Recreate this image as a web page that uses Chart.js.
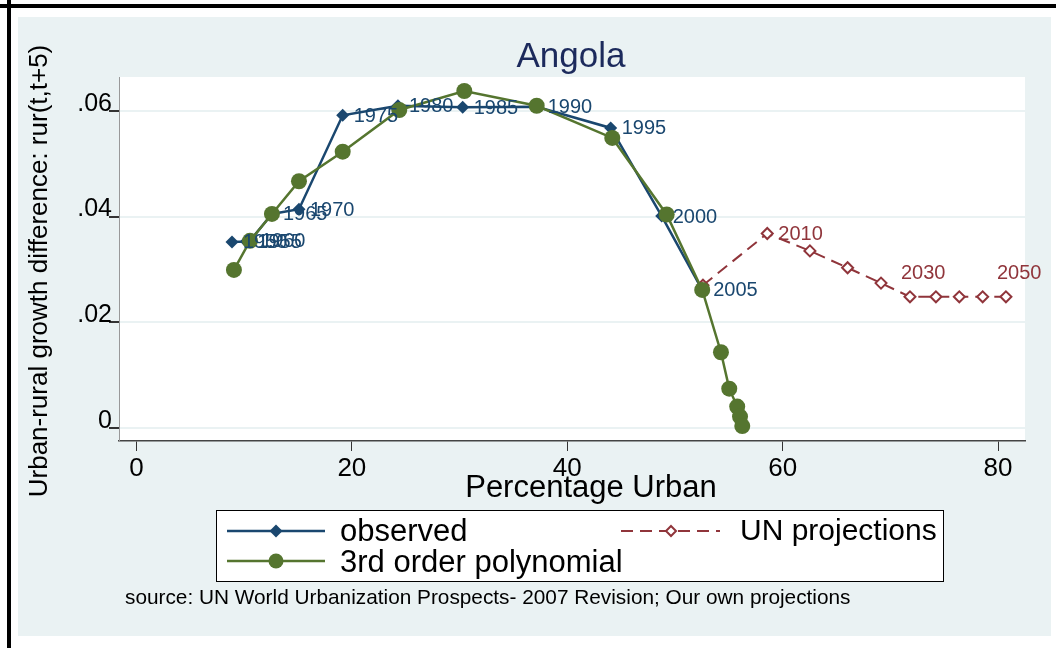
<!DOCTYPE html>
<html>
<head>
<meta charset="utf-8">
<script src="https://cdn.jsdelivr.net/npm/chart.js@4.4.1/dist/chart.umd.min.js"></script>
<style>
  html, body { margin: 0; padding: 0; background: #fff; }
</style>
</head>
<body>
<canvas id="chart" width="1056" height="648"></canvas>
<script>
// observed values
const obsYears = ['1950', '1955', '1960', '1965', '1970', '1975', '1980', '1985', '1990', '1995', '2000', '2005'];
const obsUrban = [8.87, 10.2, 10.54, 12.58, 15.09, 19.15, 24.28, 30.29, 37.16, 44.03, 48.77, 52.53];
const obsDiff = [0.0352, 0.0353, 0.0354, 0.0405, 0.0414, 0.0592, 0.0610, 0.0607, 0.0608, 0.0568, 0.0401, 0.0261];

// UN projections
const projYears = ['2005', '2010', '2015', '2020', '2025', '2030', '2035', '2040', '2045', '2050'];
const projShown = ['', '2010', '', '', '', '2030', '', '', '', '2050'];
const projUrban = [52.6, 58.57, 62.53, 66.03, 69.13, 71.82, 74.23, 76.40, 78.57, 80.73];
const projDiff = [0.0270, 0.0368, 0.0335, 0.0303, 0.0274, 0.0248, 0.0248, 0.0248, 0.0248, 0.0248];

// 3rd order polynomial fit
const polyUrban = [9.05, 10.54, 12.58, 15.09, 19.15, 24.40, 30.44, 37.16, 44.18, 49.23, 52.53, 54.27, 55.04, 55.78, 56.04, 56.25];
const polyDiff = [0.0299, 0.0354, 0.0405, 0.0467, 0.0523, 0.0602, 0.0638, 0.0610, 0.0549, 0.0404, 0.0261, 0.0143, 0.0074, 0.0040, 0.0021, 0.0003];

const xTicks = [0, 20, 40, 60, 80];
const yTicks = [0, 0.02, 0.04, 0.06];

const FONT = '"Liberation Sans", Arial, sans-serif';
const NAVY = '#1a476f';
const MAROON = '#90353b';
const GREEN = '#55752f';
const BG = '#eaf2f3';

function pts(xs, ys) {
    return xs.map((x, i) => ({ x: x, y: ys[i] }));
}

// fond, cadre noir
const backgroundPlugin = {
    id: 'background',
    beforeDraw(chart) {
        const ctx = chart.ctx;
        const a = chart.chartArea;
        ctx.save();
        ctx.fillStyle = '#fff';
        ctx.fillRect(0, 0, chart.width, chart.height);
        ctx.fillStyle = '#000';
        ctx.fillRect(0, 4, chart.width, 4);
        ctx.fillRect(7, 0, 4, chart.height);
        ctx.fillStyle = BG;
        ctx.fillRect(18, 17, 1033, 619);
        ctx.fillStyle = '#fff';
        ctx.fillRect(a.left, a.top, a.right - a.left, a.bottom - a.top);
        ctx.restore();
    }
};

// point labels (years)
const labelPlugin = {
    id: 'pointLabels',
    afterDatasetsDraw(chart) {
        const ctx = chart.ctx;
        ctx.save();
        ctx.font = '20px ' + FONT;
        ctx.textBaseline = 'middle';
        ctx.textAlign = 'left';
        chart.data.datasets.forEach((ds, di) => {
            if (!ds.yearLabels) return;
            const meta = chart.getDatasetMeta(di);
            ctx.fillStyle = ds.borderColor;
            meta.data.forEach((p, i) => {
                const txt = ds.yearLabels[i];
                if (!txt) return;
                if (ds.labelAbove && ds.labelAbove(i)) {
                    ctx.fillText(txt, p.x - 9, p.y - 23);
                } else {
                    ctx.fillText(txt, p.x + 11, p.y + 1);
                }
            });
        });
        ctx.restore();
    }
};

function diamond(ctx, x, y, r, fill, stroke) {
    ctx.beginPath();
    ctx.moveTo(x, y - r);
    ctx.lineTo(x + r, y);
    ctx.lineTo(x, y + r);
    ctx.lineTo(x - r, y);
    ctx.closePath();
    ctx.fillStyle = fill;
    ctx.fill();
    if (stroke) {
        ctx.strokeStyle = stroke;
        ctx.lineWidth = 2;
        ctx.stroke();
    }
}

// titles, legend, note
const textPlugin = {
    id: 'texts',
    afterDraw(chart) {
        const ctx = chart.ctx;
        ctx.save();
        ctx.textBaseline = 'middle';

        ctx.fillStyle = '#1c2a5c';
        ctx.font = '35px ' + FONT;
        ctx.textAlign = 'center';
        ctx.fillText('Angola', 571, 57);

        ctx.fillStyle = '#000';
        ctx.font = '31px ' + FONT;
        ctx.fillText('Percentage Urban', 591, 488);

        ctx.save();
        ctx.translate(40, 271);
        ctx.rotate(-Math.PI / 2);
        ctx.font = '26px ' + FONT;
        ctx.fillText('Urban-rural growth difference: rur(t,t+5)', 0, 0);
        ctx.restore();

        // legend
        ctx.fillStyle = '#fff';
        ctx.fillRect(216, 510, 727, 71);
        ctx.strokeStyle = '#000';
        ctx.lineWidth = 1;
        ctx.strokeRect(216.5, 510.5, 727, 71);

        ctx.lineWidth = 2.5;
        ctx.strokeStyle = NAVY;
        ctx.beginPath(); ctx.moveTo(227, 531); ctx.lineTo(325, 531); ctx.stroke();
        diamond(ctx, 276, 531, 6.5, NAVY);

        ctx.strokeStyle = GREEN;
        ctx.beginPath(); ctx.moveTo(227, 561); ctx.lineTo(325, 561); ctx.stroke();
        ctx.fillStyle = GREEN;
        ctx.beginPath(); ctx.arc(276, 561, 7.5, 0, Math.PI * 2); ctx.fill();

        ctx.strokeStyle = MAROON;
        ctx.lineWidth = 2;
        ctx.setLineDash([12, 7]);
        ctx.beginPath(); ctx.moveTo(621, 531); ctx.lineTo(720, 531); ctx.stroke();
        ctx.setLineDash([]);
        diamond(ctx, 671, 531, 5, '#fff', MAROON);

        ctx.fillStyle = '#000';
        ctx.textAlign = 'left';
        ctx.font = '31px ' + FONT;
        ctx.fillText('observed', 340, 532);
        ctx.fillText('3rd order polynomial', 340, 563);
        ctx.font = '30px ' + FONT;
        ctx.fillText('UN projections', 740, 532);

        ctx.font = '20.8px ' + FONT;
        ctx.fillText('source: UN World Urbanization Prospects- 2007 Revision; Our own projections', 125, 598);
        ctx.restore();
    }
};

new Chart(document.getElementById('chart'), {
    type: 'scatter',
    data: {
        datasets: [
            {
                label: '3rd order polynomial',
                data: pts(polyUrban, polyDiff),
                showLine: true,
                borderColor: GREEN,
                backgroundColor: GREEN,
                borderWidth: 2.5,
                pointStyle: 'circle',
                pointRadius: 8,
                pointBorderWidth: 0
            },
            {
                label: 'UN projections',
                data: pts(projUrban, projDiff),
                yearLabels: projShown,
                labelAbove: i => i >= 5,
                showLine: true,
                borderColor: MAROON,
                backgroundColor: '#fff',
                borderWidth: 2,
                borderDash: [12, 7],
                pointStyle: 'rectRot',
                pointRadius: 5.5,
                pointBorderWidth: 2
            },
            {
                label: 'observed',
                data: pts(obsUrban, obsDiff),
                yearLabels: obsYears,
                showLine: true,
                borderColor: NAVY,
                backgroundColor: NAVY,
                borderWidth: 2.5,
                pointStyle: 'rectRot',
                pointRadius: 6.5,
                pointBorderWidth: 0
            }
        ]
    },
    options: {
        responsive: false,
        animation: false,
        devicePixelRatio: 1,
        layout: { padding: { left: 0, top: 77, right: 31, bottom: 0 } },
        plugins: {
            legend: { display: false },
            title: { display: false },
            tooltip: { enabled: false }
        },
        scales: {
            x: {
                type: 'linear',
                min: -1.62,
                max: 82.5,
                afterBuildTicks: s => { s.ticks = xTicks.map(v => ({ value: v })); },
                afterFit: s => { s.height = 207; },
                grid: { drawOnChartArea: false, drawTicks: true, tickLength: 10, tickColor: '#333' },
                border: { color: '#444', width: 1.5 },
                ticks: { color: '#000', font: { family: FONT, size: 26 }, padding: 2, maxRotation: 0 }
            },
            y: {
                type: 'linear',
                min: -0.00252,
                max: 0.06645,
                afterBuildTicks: s => { s.ticks = yTicks.map(v => ({ value: v })); },
                afterFit: s => { s.width = 119; },
                grid: { color: BG, lineWidth: 2, tickColor: '#333', tickLength: 10 },
                border: { color: '#999', width: 1 },
                ticks: {
                    color: '#000',
                    font: { family: FONT, size: 25 },
                    padding: -3,
                    labelOffset: -7,
                    callback: v => v === 0 ? '0' : v.toFixed(2).replace(/^0/, '')
                }
            }
        }
    },
    plugins: [backgroundPlugin, labelPlugin, textPlugin]
});
</script>
</body>
</html>
